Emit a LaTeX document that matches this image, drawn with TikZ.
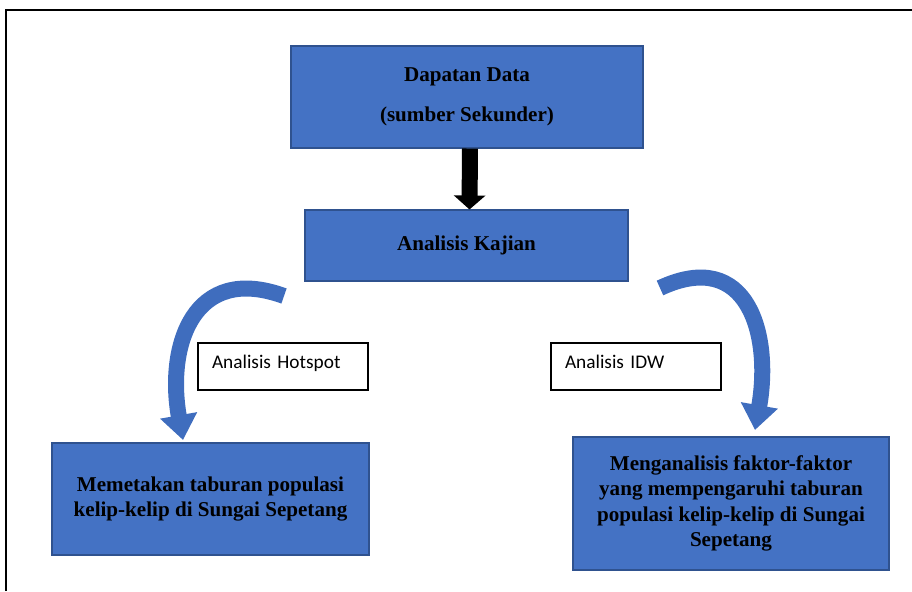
\documentclass[tikz,border=0pt]{standalone}
\usepackage{fontspec}
\setmainfont{Liberation Serif}
\newfontfamily\calibrifont{Carlito}
\usetikzlibrary{positioning,arrows.meta,calc}

\definecolor{boxblue}{HTML}{4472C4}
\definecolor{boxedge}{HTML}{2F528F}
\definecolor{arcblue}{HTML}{3F6DBE}

\begin{document}
\begin{tikzpicture}[
  font=\fontsize{12}{14.5}\selectfont\bfseries,
  >=Stealth,
  bluebox/.style={draw=boxedge, fill=boxblue, line width=0.6pt, align=center, inner sep=2pt},
  methodbox/.style={draw=black, line width=0.6pt, fill=white, align=left, text width=2.84cm,
    inner xsep=0.28cm, inner ysep=0pt, text height=0.5cm, text depth=0.44cm,
    font=\calibrifont\fontsize{11}{13}\selectfont},
  downmap/.style={draw=black, line width=0.32cm, -{Triangle[width=0.62cm,length=0.28cm]}},
  curvemap/.style={draw=arcblue, line width=0.32cm, -{Triangle[width=0.72cm,length=0.5cm]}}
]
  \useasboundingbox (0,0) rectangle (18.24,11.82);
  % frame
  \draw[line width=0.6pt] (0.12,0) -- (0.12,11.62) -- (18.24,11.62);

  \node[bluebox, minimum width=7.04cm, minimum height=2.04cm] (dapatan) at (9.34,9.88)
    {Dapatan Data\\[8pt] (sumber Sekunder)};
  \node[bluebox, minimum width=6.46cm, minimum height=1.42cm] (kajian) at (9.33,6.91)
    {Analisis Kajian};
  \node[methodbox] (hotspot) at (5.66,4.49) {Analisis Hotspot};
  \node[methodbox] (idw) at (12.72,4.49) {Analisis IDW};
  \node[bluebox, minimum width=6.34cm, minimum height=2.24cm] (petakan) at (4.21,1.84)
    {Memetakan taburan populasi\\ kelip-kelip di Sungai Sepetang};
  \node[bluebox, minimum width=6.32cm, minimum height=2.66cm] (faktor) at (14.62,1.75)
    {Menganalisis faktor-faktor\\ yang mempengaruhi taburan\\ populasi kelip-kelip di Sungai\\ Sepetang};

  % arrows
  \draw[downmap] ([xshift=0.06cm]dapatan.south) -- ([xshift=0.06cm]kajian.north);
  \coordinate (hottail) at (5.68,5.90);
  \coordinate (hottip) at (3.66,3.02);
  \coordinate (idwtail) at (13.20,6.06);
  \coordinate (idwtip) at (15.10,3.22);
  \draw[curvemap] (hottail) to[out=160,in=100,looseness=1.4] (hottip);
  \draw[curvemap] (idwtail) to[out=25,in=80,looseness=1.45] (idwtip);
\end{tikzpicture}
\end{document}
